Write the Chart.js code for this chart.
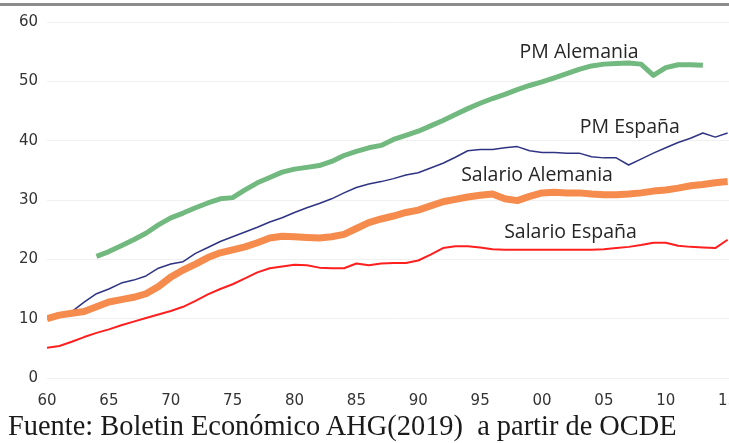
<!DOCTYPE html>
<html lang="es">
<head>
<meta charset="UTF-8">
<title>PM y Salario: Alemania y España</title>
<script src="https://cdn.jsdelivr.net/npm/chart.js"></script>
<style>
    body {
        margin: 0;
        background: #fff;
        overflow: hidden;
    }
    #wrap {
        position: relative;
        width: 729px;
        height: 443px;
        overflow: hidden;
        background: #fff;
    }
    #topline {
        position: absolute;
        left: 0;
        top: 3px;
        width: 729px;
        height: 3px;
        background: #8c8c8c;
    }
    #chart {
        position: absolute;
        left: 0;
        top: 0;
    }
    #fuente {
        position: absolute;
        left: 8px;
        top: 412px;
        font-family: "Liberation Serif", serif;
        font-size: 28.4px;
        line-height: 28px;
        color: #1a1a1a;
        white-space: pre;
    }
</style>
</head>
<body>
<div id="wrap">
    <div id="topline"></div>
    <canvas id="chart" width="750" height="412"></canvas>
    <div id="fuente">Fuente: Boletin Económico AHG(2019)  a partir de OCDE</div>
</div>
<script>
// years (x axis)
const years = [1960, 1961, 1962, 1963, 1964, 1965, 1966, 1967, 1968, 1969,
               1970, 1971, 1972, 1973, 1974, 1975, 1976, 1977, 1978, 1979,
               1980, 1981, 1982, 1983, 1984, 1985, 1986, 1987, 1988, 1989,
               1990, 1991, 1992, 1993, 1994, 1995, 1996, 1997, 1998, 1999,
               2000, 2001, 2002, 2003, 2004, 2005, 2006, 2007, 2008, 2009,
               2010, 2011, 2012, 2013, 2014, 2015];

// series values
const pmAlemania = [null, null, null, null, 20.5, 21.3, 22.3, 23.3, 24.4, 25.8,
                    27.0, 27.8, 28.7, 29.5, 30.2, 30.4, 31.7, 32.9, 33.8, 34.7,
                    35.2, 35.5, 35.8, 36.5, 37.5, 38.2, 38.8, 39.2, 40.2, 40.9,
                    41.6, 42.5, 43.4, 44.4, 45.4, 46.3, 47.1, 47.8, 48.6, 49.3,
                    49.9, 50.6, 51.3, 52.0, 52.6, 52.9, 53.0, 53.1, 52.9, 51.0,
                    52.3, 52.8, 52.8, 52.7, null, null];

const pmEspana = [10.0, 10.3, 11.2, 12.8, 14.2, 15.0, 16.0, 16.5, 17.2, 18.5,
                  19.2, 19.6, 21.0, 22.0, 23.0, 23.8, 24.6, 25.4, 26.3, 27.0,
                  27.9, 28.7, 29.4, 30.2, 31.2, 32.1, 32.7, 33.1, 33.6, 34.2,
                  34.6, 35.4, 36.2, 37.2, 38.3, 38.5, 38.5, 38.8, 39.0, 38.3,
                  38.0, 38.0, 37.9, 37.9, 37.3, 37.1, 37.1, 35.9, 36.9, 37.9,
                  38.8, 39.7, 40.4, 41.3, 40.6, 41.3];

const salarioAlemania = [10.0, 10.6, 10.9, 11.2, 12.0, 12.8, 13.2, 13.6, 14.2, 15.4,
                         17.0, 18.2, 19.2, 20.3, 21.1, 21.6, 22.1, 22.8, 23.6, 23.9,
                         23.8, 23.7, 23.6, 23.8, 24.2, 25.2, 26.2, 26.8, 27.3, 27.9,
                         28.3, 29.0, 29.7, 30.1, 30.5, 30.8, 31.0, 30.2, 29.9, 30.6,
                         31.2, 31.3, 31.2, 31.2, 31.0, 30.9, 30.9, 31.0, 31.2, 31.5,
                         31.7, 32.0, 32.4, 32.6, 32.9, 33.1];

const salarioEspana = [5.1, 5.4, 6.1, 6.9, 7.6, 8.2, 8.9, 9.5, 10.1, 10.7,
                       11.3, 12.0, 13.0, 14.1, 15.0, 15.8, 16.8, 17.8, 18.5, 18.8,
                       19.1, 19.0, 18.6, 18.5, 18.5, 19.3, 19.0, 19.3, 19.4, 19.4,
                       19.8, 20.8, 21.9, 22.2, 22.2, 22.0, 21.7, 21.6, 21.6, 21.6,
                       21.6, 21.6, 21.6, 21.6, 21.6, 21.7, 21.9, 22.1, 22.4, 22.8,
                       22.8, 22.3, 22.1, 22.0, 21.9, 23.3];

// series names written next to the lines, anchored in data units (year, value)
const seriesNames = ['PM Alemania', 'PM España', 'Salario Alemania', 'Salario España'];
const nameYears = [2003.0, 2007.1, 1999.6, 2002.3];
const nameValues = [54.9, 42.3, 34.2, 24.6];

const lineNames = {
    id: 'lineNames',
    afterDatasetsDraw(chart) {
        const ctx = chart.ctx;
        const xs = chart.scales.x, ys = chart.scales.y;
        ctx.save();
        ctx.font = '19.5px "Open Sans", sans-serif';
        ctx.fillStyle = '#262626';
        ctx.textAlign = 'center';
        ctx.textBaseline = 'middle';
        seriesNames.forEach((name, i) => {
            ctx.fillText(name, xs.getPixelForValue(nameYears[i]), ys.getPixelForValue(nameValues[i]));
        });
        ctx.restore();
    }
};

new Chart(document.getElementById('chart'), {
    type: 'line',
    data: {
        labels: years,
        datasets: [
            { label: 'Salario Alemania', data: salarioAlemania, borderColor: '#f58b4c', borderWidth: 7, order: 1 },
            { label: 'PM Alemania', data: pmAlemania, borderColor: '#72b97f', borderWidth: 5, order: 2 },
            { label: 'Salario España', data: salarioEspana, borderColor: '#ff1f1f', borderWidth: 2, order: 3 },
            { label: 'PM España', data: pmEspana, borderColor: '#2f3482', borderWidth: 1.5, order: 4 }
        ]
    },
    options: {
        responsive: false,
        animation: false,
        devicePixelRatio: 1,
        layout: { padding: { top: 22, right: 10, left: 0, bottom: 0 } },
        elements: {
            point: { radius: 0 },
            line: { tension: 0, borderCapStyle: 'butt', borderJoinStyle: 'round' }
        },
        plugins: {
            legend: { display: false },
            tooltip: { enabled: false }
        },
        scales: {
            x: {
                type: 'linear',
                min: 1960,
                max: 2016,
                grid: { display: false },
                border: { display: false },
                afterFit: s => { s.height = 34; },
                ticks: {
                    stepSize: 5,
                    includeBounds: false,
                    maxRotation: 0,
                    autoSkip: false,
                    padding: 6,
                    color: '#333',
                    font: { family: 'DejaVu Sans', size: 15 },
                    callback: v => String(v % 100).padStart(2, '0')
                }
            },
            y: {
                min: 0,
                max: 60,
                grid: { color: '#f0f0f0', drawTicks: false },
                border: { display: false },
                afterFit: s => { s.width = 47; },
                ticks: {
                    stepSize: 10,
                    padding: 9,
                    color: '#333',
                    font: { family: 'DejaVu Sans', size: 15 }
                }
            }
        }
    },
    plugins: [lineNames]
});
</script>
</body>
</html>
